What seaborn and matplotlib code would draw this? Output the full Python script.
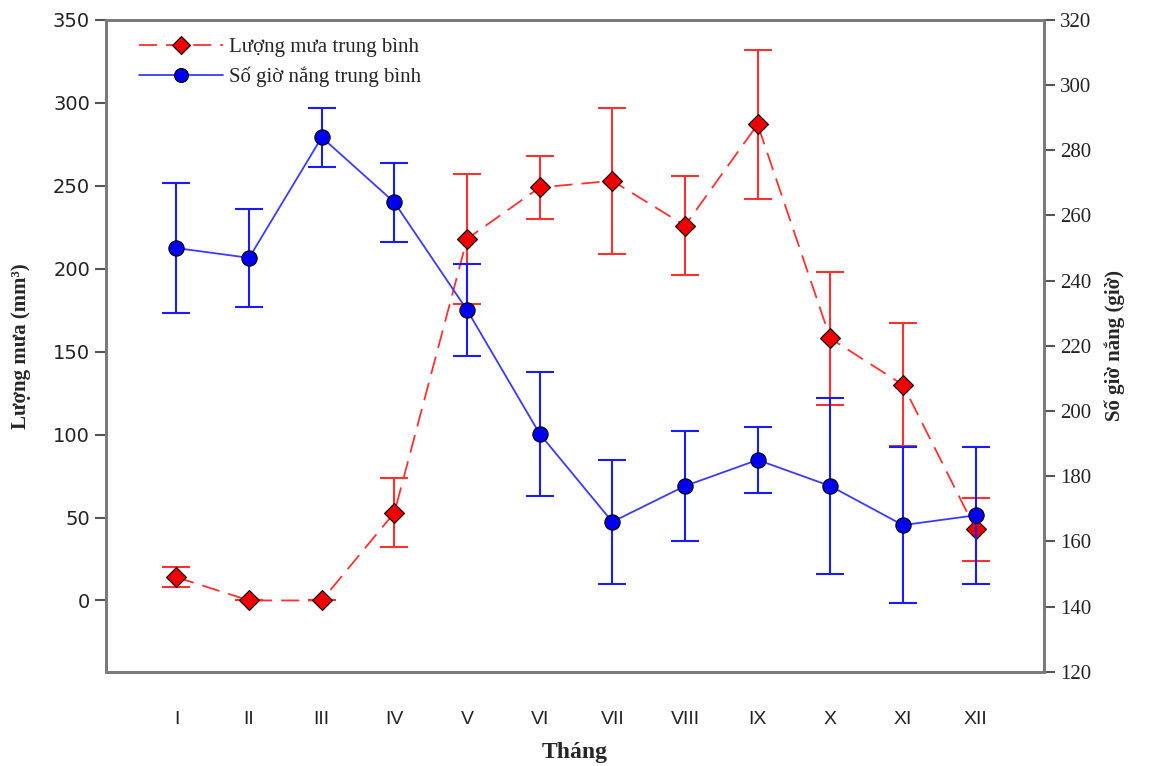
import numpy as np
import pandas as pd
import seaborn as sns
import matplotlib
matplotlib.use('Agg')
import matplotlib.pyplot as plt
from matplotlib.lines import Line2D

# Dữ liệu
thang = ['I', 'II', 'III', 'IV', 'V', 'VI', 'VII', 'VIII', 'IX', 'X', 'XI', 'XII']
luong_mua = [14, 0, 0, 53, 218, 249, 253, 226, 287, 158, 130, 43]
luong_mua_err = [6, 0, 0, 21, 39, 19, 44, 30, 45, 40, 37, 19]
gio_nang = [250, 247, 284, 264, 231, 193, 166, 177, 185, 177, 165, 168]
gio_nang_err = [20, 15, 9, 12, 14, 19, 19, 17, 10, 27, 24, 21]

sns.set_style('white')
serif = ['Liberation Serif', 'DejaVu Serif']
plt.rcParams['font.family'] = ['DejaVu Sans']

df = pd.DataFrame({'x': np.arange(1, 13), 'mua': luong_mua, 'mua_err': luong_mua_err,
                   'nang': gio_nang, 'nang_err': gio_nang_err})

fig = plt.figure(figsize=(11.65, 7.66), dpi=100)
ax = fig.add_axes([0.091, 0.123, 0.805, 0.851])
ax2 = ax.twinx()

red = '#ff3030'
blue = '#1a1aff'

# lượng mưa - trục trái
ax.errorbar(df['x'], df['mua'], yerr=df['mua_err'], fmt='none', ecolor=red,
            elinewidth=1.5, capsize=10, capthick=1.5, zorder=2)
sns.lineplot(data=df, x='x', y='mua', ax=ax, color=red, linewidth=1.3,
             linestyle=(0, (10, 5)), marker='D', markersize=10,
             markerfacecolor='#ee0000', markeredgecolor='black', markeredgewidth=0.8,
             zorder=3)

# số giờ nắng - trục phải
ax2.errorbar(df['x'], df['nang'], yerr=df['nang_err'], fmt='none', ecolor=blue,
             elinewidth=1.5, capsize=10, capthick=1.5, zorder=2)
sns.lineplot(data=df, x='x', y='nang', ax=ax2, color='#3a3aff', linewidth=1.3,
             marker='o', markersize=11, markerfacecolor='#0000ee',
             markeredgecolor='black', markeredgewidth=0.8, zorder=3)

ax.set_xlim(0.03, 12.94)
ax.set_ylim(-43, 350)
ax2.set_ylim(120, 320)
ax.set_xticks(df['x'])
ax.set_xticklabels(thang, family=['Liberation Sans Narrow', 'Liberation Sans'], fontsize=16)
ax.set_yticks(np.arange(0, 351, 50))
ax2.set_yticks(np.arange(120, 321, 20))

for a in (ax, ax2):
    for s in a.spines.values():
        s.set_color('#7a7a7a')
        s.set_linewidth(2)
    a.tick_params(direction='out', length=8, width=1.5, color='#555555', labelsize=14,
                  labelcolor='#222222')
ax.tick_params(axis='x', pad=20)
for lbl in ax2.get_yticklabels():
    lbl.set_family(serif)
    lbl.set_fontsize(15)

ax.set_xlabel('Tháng', family=serif, fontweight='bold', fontsize=17, labelpad=10)
ax.set_ylabel('Lượng mưa (mm³)', family=serif, fontweight='bold', fontsize=15, labelpad=16)
ax2.set_ylabel('Số giờ nắng (giờ)', family=serif, fontweight='bold', fontsize=15, labelpad=10)

handles = [
    Line2D([], [], color=red, linewidth=1.3, linestyle=(0, (10, 5)), marker='D', markersize=9,
           markerfacecolor='#ee0000', markeredgecolor='black', markeredgewidth=0.8),
    Line2D([], [], color='#3a3aff', linewidth=1.3, marker='o', markersize=10,
           markerfacecolor='#0000ee', markeredgecolor='black', markeredgewidth=0.8),
]
ax2.legend(handles, ['Lượng mưa trung bình', 'Số giờ nắng trung bình'], loc='upper left',
           bbox_to_anchor=(0.02, 0.995), frameon=False, handlelength=4,
           prop={'family': serif, 'size': 15}, borderaxespad=0.3, labelspacing=0.45,
           handletextpad=0.3)

fig.savefig('out.png', dpi=100)
